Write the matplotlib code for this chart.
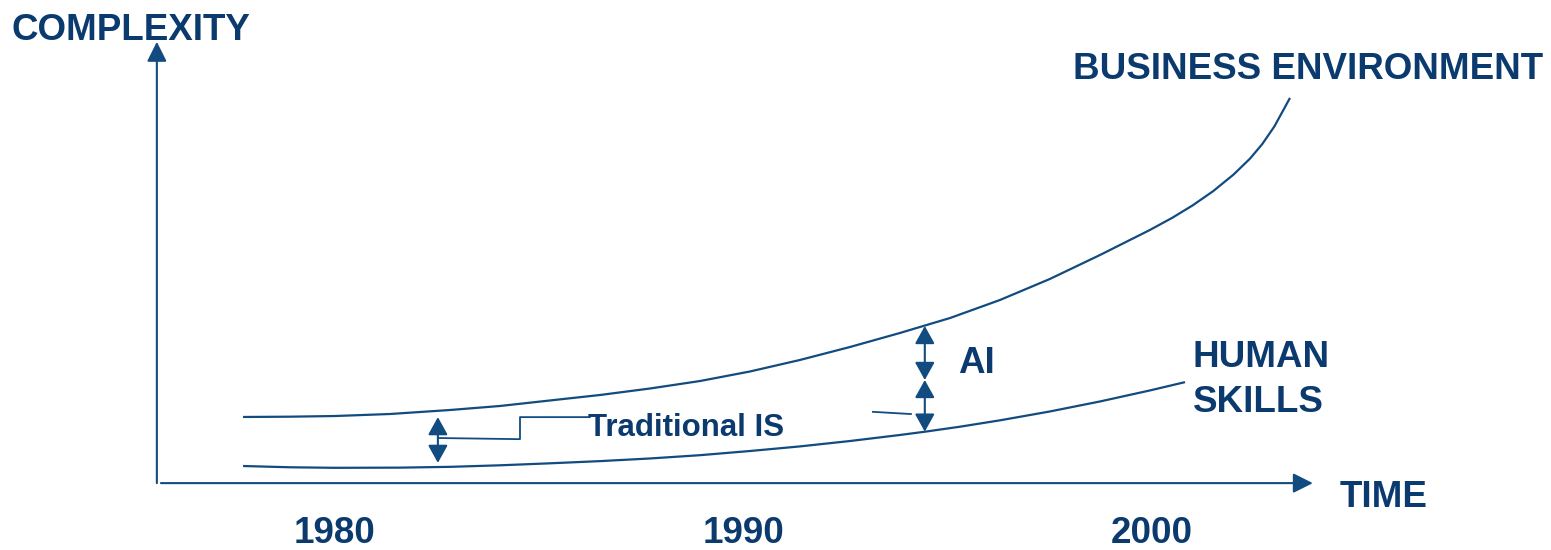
import numpy as np
import matplotlib.pyplot as plt

plt.rcParams['font.family'] = ['Liberation Sans', 'DejaVu Sans']

text_col = '#0b3a6e'
line_col = '#114b7f'

# complexity curves, year vs complexity (arbitrary units)
business_year = [1977.75, 1978.90, 1980.00, 1981.35, 1982.82, 1984.04, 1985.26, 1986.49,
                 1987.71, 1988.94, 1990.16, 1991.38, 1992.61, 1993.83, 1995.06, 1996.28,
                 1997.50, 1998.73, 1999.95, 2000.50, 2001.00, 2001.50, 2002.00, 2002.40,
                 2002.70, 2003.00, 2003.38]
business_cx = [15.23, 15.30, 15.45, 15.91, 16.82, 17.73, 18.98, 20.23,
               21.70, 23.41, 25.57, 28.18, 31.14, 34.32, 37.73, 41.82,
               46.59, 52.05, 57.73, 60.51, 63.34, 66.56, 70.34, 73.94,
               77.24, 81.29, 87.75]

human_year = [1977.75, 1978.90, 1980.00, 1981.59, 1982.82, 1984.04, 1985.26, 1986.49,
              1987.71, 1988.94, 1990.16, 1991.38, 1992.61, 1993.83, 1994.44, 1995.30,
              1996.28, 1997.50, 1998.73, 1999.95, 2000.81]
human_cx = [4.09, 3.80, 3.68, 3.72, 3.90, 4.25, 4.70, 5.20,
            5.80, 6.55, 7.50, 8.54, 9.77, 11.14, 11.88, 13.02,
            14.47, 16.48, 18.76, 21.26, 23.15]

# gap arrows: (year, bottom, top) and (year, bottom, middle, top)
gap_is = (1982.52, 4.8, 15.2)
gap_ai = (1994.44, 11.9, 23.64, 35.91)

# leader lines for the "Traditional IS" label and the AI marker
leader_is_x = [1982.52, 1984.46, 1984.53, 1984.53, 1986.24]
leader_is_y = [10.45, 10.2, 10.2, 15.2, 15.2]
leader_ai_x = [1993.17, 1994.10]
leader_ai_y = [16.4, 15.9]

years = [1980, 1990, 2000]

fig = plt.figure(figsize=(15.51, 5.5), dpi=100)
ax = fig.add_axes([0, 0, 1, 1])
ax.set_xlim(1971.80, 2009.77)
ax.set_ylim(-15, 110)
ax.axis('off')

# axes with arrow heads
axis_arrow = dict(arrowstyle='-|>,head_length=0.8,head_width=0.4', color=line_col,
                  lw=1.5, mutation_scale=15, shrinkA=0, shrinkB=0)
ax.annotate('', xy=(1975.64, 100.5), xytext=(1975.64, 0.2), arrowprops=axis_arrow)
ax.annotate('', xy=(2003.94, 0.2), xytext=(1975.74, 0.2), arrowprops=axis_arrow)

ax.plot(business_year, business_cx, color=line_col, lw=1.6, solid_capstyle='butt')
ax.plot(human_year, human_cx, color=line_col, lw=1.6, solid_capstyle='butt')

gap_arrow = dict(arrowstyle='<|-|>,head_length=0.72,head_width=0.4', color=line_col,
                 lw=1.5, mutation_scale=15, shrinkA=0, shrinkB=0)
ax.annotate('', xy=(gap_is[0], gap_is[2]), xytext=(gap_is[0], gap_is[1]), arrowprops=gap_arrow)
ax.annotate('', xy=(gap_ai[0], gap_ai[2]), xytext=(gap_ai[0], gap_ai[1]), arrowprops=gap_arrow)
ax.annotate('', xy=(gap_ai[0], gap_ai[3]), xytext=(gap_ai[0], gap_ai[2]), arrowprops=gap_arrow)

ax.plot(leader_is_x, leader_is_y, color=line_col, lw=1.3)
ax.plot(leader_ai_x, leader_ai_y, color=line_col, lw=1.3)

big = dict(color=text_col, fontsize=26.5, fontweight='bold', va='baseline')
ax.text(1972.09, 100.9, 'COMPLEXITY', ha='left', **big)
ax.text(1998.07, 92.0, 'BUSINESS ENVIRONMENT', ha='left', **big)
ax.text(2001.0, 26.6, 'HUMAN', ha='left', **big)
ax.text(2001.0, 16.4, 'SKILLS', ha='left', **big)
ax.text(1995.25, 25.2, 'AI', ha='left', **big)
ax.text(2004.60, -5.2, 'TIME', ha='left', **big)
for yr in years:
    ax.text(yr, -13.4, str(yr), ha='center', **big)
ax.text(1986.19, 10.9, 'Traditional IS', ha='left', color=text_col, fontsize=22.5,
        fontweight='bold', va='baseline')

fig.savefig('out.png', dpi=100)
